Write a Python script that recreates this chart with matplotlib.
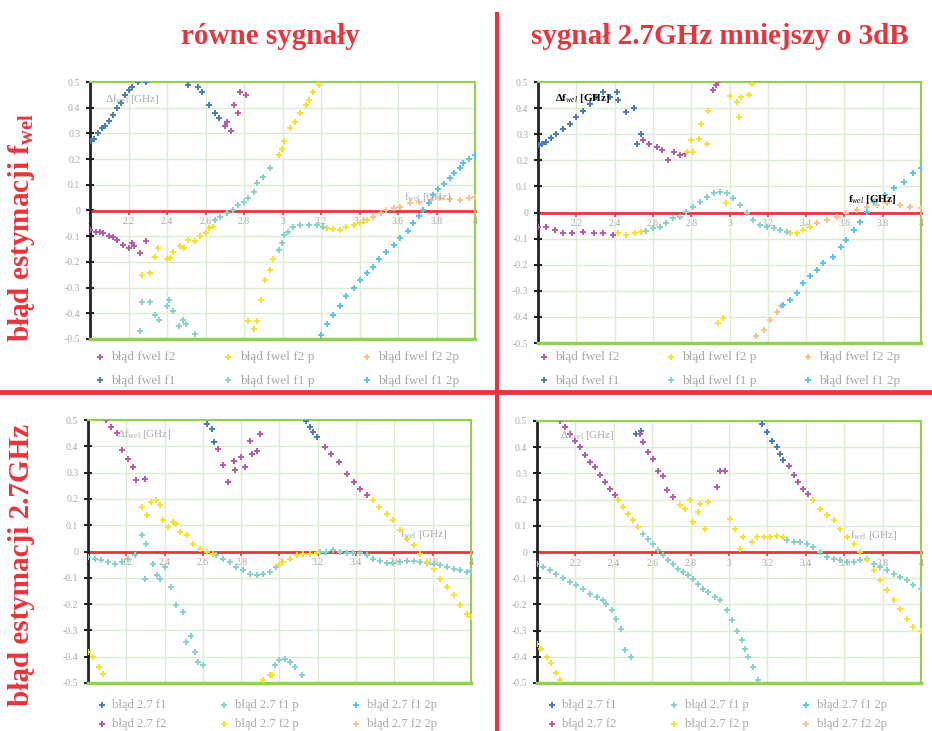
import numpy as np
import matplotlib.pyplot as plt
from matplotlib.lines import Line2D
from matplotlib.ticker import FuncFormatter, MultipleLocator

plt.rcParams['font.family'] = ['Liberation Serif', 'DejaVu Serif']
plt.rcParams['mathtext.fontset'] = 'custom'
plt.rcParams['mathtext.rm'] = 'Liberation Serif'
plt.rcParams['mathtext.it'] = 'Liberation Serif:italic'
plt.rcParams['mathtext.bf'] = 'Liberation Serif:bold'
plt.rcParams['axes.unicode_minus'] = False

# ---- dane: (f_wel [GHz], blad [GHz]) ----
# gora lewa: rowne sygnaly
tl_f1 = [(2.00, 0.27), (2.02, 0.28), (2.04, 0.30), (2.06, 0.32), (2.08, 0.33), (2.10, 0.35), (2.12, 0.37),
         (2.14, 0.40), (2.16, 0.42), (2.18, 0.45), (2.20, 0.47), (2.22, 0.48), (2.25, 0.50), (2.29, 0.50),
         (2.51, 0.49), (2.56, 0.48), (2.58, 0.46), (2.62, 0.41), (2.65, 0.38), (2.67, 0.36)]
tl_f2 = [(2.00, -0.076), (2.03, -0.082), (2.05, -0.085), (2.07, -0.089), (2.10, -0.10), (2.12, -0.105),
         (2.14, -0.114), (2.17, -0.134), (2.20, -0.147), (2.22, -0.127), (2.23, -0.14), (2.26, -0.166),
         (2.29, -0.12), (2.70, 0.33), (2.71, 0.345), (2.73, 0.31), (2.75, 0.41), (2.77, 0.38), (2.78, 0.46),
         (2.81, 0.45)]
tl_f2p = [(2.27, -0.25), (2.31, -0.244), (2.34, -0.18), (2.355, -0.147), (2.40, -0.19), (2.415, -0.186),
          (2.43, -0.16), (2.47, -0.14), (2.49, -0.147), (2.51, -0.115), (2.545, -0.12), (2.57, -0.10),
          (2.60, -0.089), (2.62, -0.07), (2.64, -0.063), (2.82, -0.43), (2.87, -0.43), (2.85, -0.46),
          (2.89, -0.35), (2.91, -0.27), (2.935, -0.23), (2.95, -0.19), (2.98, 0.215), (2.995, 0.24),
          (3.01, 0.27), (3.04, 0.32), (3.065, 0.345), (3.09, 0.38), (3.12, 0.41), (3.14, 0.43), (3.16, 0.46),
          (3.19, 0.49), (3.23, -0.07), (3.26, -0.073), (3.30, -0.076), (3.33, -0.063), (3.37, -0.056),
          (3.40, -0.05), (3.44, -0.037)]
tl_f2_2p = [(3.47, -0.024), (3.51, -0.011), (3.54, 0.002), (3.58, 0.008), (3.61, 0.015), (3.66, 0.028),
            (3.71, 0.034), (3.77, 0.041), (3.82, 0.047), (3.87, 0.043), (3.92, 0.041), (3.97, 0.047),
            (4.00, 0.054)]
tl_f1p = [(2.27, -0.355), (2.31, -0.355), (2.26, -0.47), (2.34, -0.405), (2.36, -0.425), (2.41, -0.35),
          (2.40, -0.37), (2.43, -0.39), (2.46, -0.45), (2.485, -0.425), (2.50, -0.44), (2.545, -0.48),
          (2.65, -0.037), (2.675, -0.024), (2.71, -0.011), (2.745, 0.002), (2.77, 0.021), (2.80, 0.034),
          (2.82, 0.047), (2.85, 0.073), (2.87, 0.106), (2.90, 0.13), (2.935, 0.164), (2.98, -0.153),
          (2.995, -0.127), (3.01, -0.095), (3.03, -0.082), (3.055, -0.063), (3.09, -0.056), (3.14, -0.056),
          (3.18, -0.056), (3.21, -0.063)]
tl_f1_2p = [(3.20, -0.483), (3.23, -0.44), (3.26, -0.405), (3.30, -0.37), (3.33, -0.334), (3.37, -0.30),
            (3.40, -0.27), (3.44, -0.245), (3.47, -0.218), (3.50, -0.19), (3.54, -0.16), (3.58, -0.135),
            (3.61, -0.108), (3.65, -0.08), (3.68, -0.05), (3.71, -0.02), (3.73, 0.002), (3.76, 0.03),
            (3.78, 0.06), (3.81, 0.085), (3.84, 0.105), (3.87, 0.125), (3.89, 0.144), (3.92, 0.165),
            (3.94, 0.183), (3.97, 0.20), (4.00, 0.215)]

# gora prawa: sygnal 2.7GHz mniejszy o 3dB
tr_f1 = [(2.00, 0.258), (2.02, 0.264), (2.04, 0.27), (2.07, 0.285), (2.096, 0.30), (2.13, 0.32),
         (2.166, 0.34), (2.20, 0.366), (2.235, 0.39), (2.27, 0.417), (2.305, 0.443), (2.34, 0.462),
         (2.375, 0.443), (2.41, 0.462), (2.42, 0.43), (2.46, 0.385), (2.50, 0.40), (2.515, 0.264),
         (2.54, 0.30)]
tr_f2 = [(2.00, -0.054), (2.04, -0.054), (2.09, -0.067), (2.13, -0.08), (2.18, -0.08), (2.235, -0.073),
         (2.29, -0.077), (2.34, -0.08), (2.39, -0.086), (2.55, 0.277), (2.58, 0.264), (2.62, 0.25),
         (2.65, 0.24), (2.68, 0.20), (2.71, 0.232), (2.74, 0.22), (2.77, 0.226), (2.915, 0.468),
         (2.93, 0.487), (2.94, 0.50)]
tr_f2p = [(2.42, -0.08), (2.46, -0.086), (2.505, -0.08), (2.54, -0.073), (2.78, 0.232), (2.80, 0.277),
          (2.81, 0.232), (2.84, 0.283), (2.85, 0.34), (2.88, 0.264), (2.89, 0.39), (2.94, -0.424),
          (2.965, -0.405), (2.98, 0.035), (3.00, 0.448), (3.04, 0.423), (3.05, 0.366), (3.06, 0.443),
          (3.10, 0.449), (3.12, 0.494), (3.315, -0.08), (3.35, -0.08), (3.385, -0.067), (3.42, -0.054)]
tr_f2_2p = [(3.14, -0.475), (3.18, -0.45), (3.21, -0.41), (3.25, -0.38), (3.27, -0.36), (3.455, -0.041),
            (3.51, -0.029), (3.56, -0.016), (3.61, -0.003), (3.665, 0.01), (3.72, 0.022), (3.77, 0.029),
            (3.82, 0.035), (3.89, 0.029), (3.94, 0.022), (4.00, 0.016)]
tr_f1p = [(2.565, -0.07), (2.60, -0.06), (2.635, -0.054), (2.67, -0.041), (2.705, -0.022), (2.74, -0.016),
          (2.775, 0.003), (2.81, 0.022), (2.845, 0.041), (2.88, 0.06), (2.92, 0.076), (2.95, 0.08),
          (2.985, 0.073), (3.02, 0.054), (3.055, 0.029), (3.09, -0.003), (3.125, -0.029), (3.16, -0.048),
          (3.195, -0.054), (3.23, -0.06), (3.265, -0.067), (3.30, -0.073)]
tr_f1_2p = [(3.28, -0.353), (3.315, -0.334), (3.35, -0.31), (3.385, -0.27), (3.42, -0.245), (3.455, -0.22),
            (3.49, -0.194), (3.54, -0.169), (3.58, -0.131), (3.61, -0.105), (3.65, -0.067), (3.68, -0.035),
            (3.72, 0.003), (3.755, 0.041), (3.81, 0.067), (3.86, 0.092), (3.91, 0.118), (3.96, 0.15),
            (4.00, 0.169)]

# dol lewa
bl_f1 = [(2.62, 0.485), (2.645, 0.466), (2.66, 0.415), (3.14, 0.497), (3.16, 0.472), (3.175, 0.453),
         (3.195, 0.434)]
bl_f1p = [(2.00, -0.022), (2.035, -0.028), (2.07, -0.034), (2.105, -0.04), (2.14, -0.047), (2.175, -0.04),
          (2.21, -0.028), (2.245, -0.015), (2.28, 0.061), (2.305, 0.029), (2.34, -0.047), (2.30, -0.104),
          (2.36, -0.091), (2.375, -0.104), (2.40, -0.06), (2.435, -0.135), (2.46, -0.205), (2.496, -0.23),
          (2.51, -0.344), (2.54, -0.32), (2.56, -0.382), (2.575, -0.42), (2.60, -0.433),
          (2.67, -0.015), (2.705, -0.028), (2.74, -0.04), (2.775, -0.06), (2.81, -0.072), (2.845, -0.085),
          (2.88, -0.091), (2.915, -0.085), (2.95, -0.078), (2.98, -0.06),
          (3.21, -0.003), (3.245, 0.0), (3.28, 0.004), (3.315, -0.003), (3.35, -0.005), (3.385, -0.005),
          (3.42, -0.005), (3.455, -0.015), (3.49, -0.028), (3.525, -0.038), (3.56, -0.043), (3.595, -0.043),
          (3.63, -0.04), (3.665, -0.037), (3.70, -0.038), (3.735, -0.04), (3.77, -0.043), (3.805, -0.047),
          (3.84, -0.053), (3.875, -0.06), (3.91, -0.066), (3.94, -0.072), (3.98, -0.078), (4.00, -0.076),
          (2.975, -0.433), (3.00, -0.414), (3.03, -0.408), (3.055, -0.42), (3.08, -0.44), (3.115, -0.47)]
bl_f1_2p = []
bl_f2 = [(2.095, 0.50), (2.12, 0.475), (2.15, 0.45), (2.175, 0.385), (2.21, 0.353), (2.235, 0.32),
         (2.25, 0.27), (2.30, 0.276), (2.68, 0.39), (2.705, 0.327), (2.73, 0.263), (2.76, 0.345),
         (2.77, 0.308), (2.80, 0.358), (2.82, 0.32), (2.845, 0.42), (2.855, 0.37), (2.88, 0.383),
         (2.90, 0.447), (3.24, 0.396), (3.27, 0.37), (3.31, 0.34), (3.35, 0.295), (3.39, 0.263),
         (3.42, 0.238), (3.455, 0.213)]
bl_f2p = [(2.28, 0.168), (2.31, 0.137), (2.33, 0.187), (2.355, 0.194), (2.375, 0.175), (2.39, 0.118),
          (2.418, 0.092), (2.445, 0.111), (2.46, 0.105), (2.48, 0.073), (2.515, 0.061), (2.55, 0.029),
          (2.585, 0.01), (2.62, -0.003), (2.655, -0.009), (2.00, -0.382), (2.026, -0.40), (2.06, -0.44),
          (2.08, -0.465), (2.915, -0.49), (2.95, -0.468), (2.96, -0.468), (2.995, -0.053), (3.02, -0.04),
          (3.055, -0.028), (3.09, -0.015), (3.125, -0.009), (3.16, -0.009), (3.195, -0.005),
          (3.49, 0.194), (3.52, 0.168), (3.56, 0.143), (3.595, 0.118), (3.63, 0.08), (3.665, 0.048),
          (3.70, 0.023), (3.735, -0.009), (3.77, -0.04), (3.805, -0.066), (3.84, -0.104), (3.875, -0.135),
          (3.91, -0.167), (3.94, -0.205), (3.98, -0.237), (4.00, -0.25)]
bl_f2_2p = []

# dol prawa
br_f1 = [(2.518, 0.45), (2.544, 0.46), (3.17, 0.49), (3.197, 0.458), (3.223, 0.425), (3.25, 0.40),
         (3.266, 0.375), (3.283, 0.35)]
br_f1p = [(2.553, 0.07), (2.58, 0.05), (2.605, 0.032), (2.63, 0.006), (2.657, -0.013), (2.683, -0.032),
          (2.71, -0.045), (2.735, -0.064), (2.76, -0.076), (2.788, -0.089), (2.814, -0.102), (2.84, -0.121),
          (2.866, -0.14), (2.89, -0.153), (2.927, -0.172), (2.953, -0.185), (2.988, -0.223), (3.014, -0.26),
          (3.04, -0.30), (3.066, -0.337), (3.083, -0.37), (3.10, -0.40), (3.127, -0.44), (3.153, -0.49),
          (2.00, -0.045), (2.03, -0.057), (2.066, -0.07), (2.10, -0.083), (2.136, -0.10), (2.17, -0.115),
          (2.205, -0.127), (2.24, -0.14), (2.275, -0.16), (2.31, -0.17), (2.344, -0.185), (2.36, -0.20),
          (2.39, -0.223), (2.414, -0.254), (2.44, -0.293), (2.457, -0.375), (2.49, -0.40),
          (3.30, 0.045), (3.336, 0.038), (3.37, 0.038), (3.405, 0.032), (3.44, 0.019), (3.475, 0.0),
          (3.51, -0.019), (3.545, -0.025), (3.58, -0.032), (3.614, -0.038), (3.65, -0.038), (3.684, -0.032),
          (3.718, -0.025), (3.753, -0.045), (3.788, -0.057), (3.823, -0.07), (3.858, -0.083),
          (3.892, -0.095), (3.927, -0.108), (3.96, -0.127), (4.00, -0.14)]
br_f1_2p = []
br_f2 = [(2.118, 0.50), (2.144, 0.477), (2.17, 0.45), (2.196, 0.425), (2.222, 0.40), (2.25, 0.37),
         (2.275, 0.343), (2.30, 0.324), (2.33, 0.293), (2.355, 0.267), (2.38, 0.24), (2.405, 0.216),
         (2.535, 0.45), (2.55, 0.42), (2.58, 0.38), (2.605, 0.356), (2.63, 0.31), (2.657, 0.29),
         (2.675, 0.235), (2.71, 0.21), (2.936, 0.248), (2.953, 0.31), (2.98, 0.31), (3.31, 0.33),
         (3.336, 0.293), (3.36, 0.267), (3.388, 0.242), (3.414, 0.223)]
br_f2p = [(2.42, 0.197), (2.45, 0.172), (2.475, 0.146), (2.50, 0.121), (2.527, 0.095),
          (2.00, -0.35), (2.02, -0.37), (2.05, -0.40), (2.075, -0.425), (2.10, -0.46), (2.118, -0.49),
          (2.744, 0.178), (2.77, 0.165), (2.796, 0.197), (2.814, 0.115), (2.84, 0.153), (2.85, 0.185),
          (2.875, 0.089), (2.89, 0.19), (3.005, 0.127), (3.03, 0.089), (3.057, 0.013), (3.075, 0.057),
          (3.12, 0.038), (3.145, 0.057), (3.18, 0.057), (3.214, 0.057), (3.25, 0.06), (3.283, 0.057),
          (3.44, 0.197), (3.475, 0.165), (3.51, 0.14), (3.545, 0.121), (3.58, 0.089), (3.614, 0.057),
          (3.65, 0.032), (3.684, 0.0), (3.718, -0.032), (3.753, -0.07), (3.788, -0.108), (3.823, -0.146),
          (3.858, -0.185), (3.892, -0.216), (3.927, -0.254), (3.96, -0.286), (4.00, -0.30)]
br_f2_2p = []

BLUE = '#4a7ebb'
MAGENTA = '#b65fa8'
YELLOW = '#f7e034'
TEAL = '#8ad1c9'
SKY = '#5cc3ea'
ORANGE = '#f8c190'
RED = '#e8343c'
GREEN = '#92d050'
GRIDC = '#dcedcf'
GRAY = '#a8a8a8'

fig = plt.figure(figsize=(9.32, 7.31), dpi=100)


def panel(rect, series, order, ann_style, ann_pos, leg_anchor, leg_fs, leg_sp, leg_col):
    ax = fig.add_axes(rect)
    ax.set_xlim(2, 4)
    ax.set_ylim(-0.5, 0.5)
    ax.xaxis.set_major_locator(MultipleLocator(0.2))
    ax.yaxis.set_major_locator(MultipleLocator(0.1))
    ax.xaxis.set_major_formatter(FuncFormatter(lambda v, p: f"{v:g}"))
    ax.yaxis.set_major_formatter(FuncFormatter(lambda v, p: f"{round(v, 1):g}"))
    ax.grid(True, color=GRIDC, lw=1.0, zorder=0)
    ax.set_axisbelow(True)
    ax.spines['bottom'].set_position(('data', 0))
    ax.spines['bottom'].set_color(RED)
    ax.spines['bottom'].set_linewidth(2)
    ax.spines['bottom'].set_zorder(2)
    for s in ('top', 'right'):
        ax.spines[s].set_color(GREEN)
        ax.spines[s].set_linewidth(1.5)
    ax.spines['left'].set_color('#222222')
    ax.spines['left'].set_linewidth(2)
    ax.axhline(-0.5, color=GREEN, lw=2.5, clip_on=False, zorder=3)
    ax.tick_params(axis='x', colors=RED, length=3, width=1.2, direction='out', labelsize=7,
                   labelcolor=GRAY, pad=2)
    ax.tick_params(axis='y', colors='#222222', length=6, width=1.5, direction='inout', labelsize=7,
                   labelcolor=GRAY, pad=4)
    handles = {}
    for key, (pts, color, label) in series.items():
        arr = np.array(pts, dtype=float).reshape(-1, 2)
        handles[key] = ax.scatter(arr[:, 0], arr[:, 1], marker='P', s=22, color=color,
                                  linewidths=0, label=label, zorder=4, clip_on=True)
    a1, a2 = ann_pos
    if ann_style == 'bold':
        ax.text(a1[0], a1[1], r'$\mathbf{\Delta f}_{wel}$' + r' $\mathbf{[GHz]}$', fontsize=8,
                color='black', va='center', zorder=5)
        ax.text(a2[0], a2[1], r'$\mathbf{f}_{wel}$' + r' $\mathbf{[GHz]}$', fontsize=8,
                color='black', va='center', zorder=5)
    else:
        ax.text(a1[0], a1[1], r'$\Delta\mathrm{f}_{\mathrm{wel}}$ [GHz]', fontsize=8,
                color=GRAY, va='center', zorder=5)
        ax.text(a2[0], a2[1], r'$\mathrm{f}_{\mathrm{wel}}$ [GHz]', fontsize=8,
                color=GRAY, va='center', zorder=5)
    leg = fig.legend([handles[k] for k in order], [series[k][2] for k in order], ncol=3,
                     loc='upper left', bbox_to_anchor=leg_anchor, frameon=False, fontsize=leg_fs,
                     handletextpad=0.4, columnspacing=leg_col, labelspacing=leg_sp, handlelength=0.9,
                     markerscale=0.9, borderpad=0, borderaxespad=0)
    for t in leg.get_texts():
        t.set_color(GRAY)
    return ax


tl_series = {
    'f2': (tl_f2, MAGENTA, 'błąd fwel f2'), 'f1': (tl_f1, BLUE, 'błąd fwel f1'),
    'f2p': (tl_f2p, YELLOW, 'błąd fwel f2 p'), 'f1p': (tl_f1p, TEAL, 'błąd fwel f1 p'),
    'f2_2p': (tl_f2_2p, ORANGE, 'błąd fwel f2 2p'), 'f1_2p': (tl_f1_2p, SKY, 'błąd fwel f1 2p'),
}
tr_series = {
    'f2': (tr_f2, MAGENTA, 'błąd fwel f2'), 'f1': (tr_f1, BLUE, 'błąd fwel f1'),
    'f2p': (tr_f2p, YELLOW, 'błąd fwel f2 p'), 'f1p': (tr_f1p, TEAL, 'błąd fwel f1 p'),
    'f2_2p': (tr_f2_2p, ORANGE, 'błąd fwel f2 2p'), 'f1_2p': (tr_f1_2p, SKY, 'błąd fwel f1 2p'),
}
bl_series = {
    'f1': (bl_f1, BLUE, 'błąd 2.7 f1'), 'f2': (bl_f2, MAGENTA, 'błąd 2.7 f2'),
    'f1p': (bl_f1p, TEAL, 'błąd 2.7 f1 p'), 'f2p': (bl_f2p, YELLOW, 'błąd 2.7 f2 p'),
    'f1_2p': (bl_f1_2p, SKY, 'błąd 2.7 f1 2p'), 'f2_2p': (bl_f2_2p, ORANGE, 'błąd 2.7 f2 2p'),
}
br_series = {
    'f1': (br_f1, BLUE, 'błąd 2.7 f1'), 'f2': (br_f2, MAGENTA, 'błąd 2.7 f2'),
    'f1p': (br_f1p, TEAL, 'błąd 2.7 f1 p'), 'f2p': (br_f2p, YELLOW, 'błąd 2.7 f2 p'),
    'f1_2p': (br_f1_2p, SKY, 'błąd 2.7 f1 2p'), 'f2_2p': (br_f2_2p, ORANGE, 'błąd 2.7 f2 2p'),
}
top_order = ['f2', 'f1', 'f2p', 'f1p', 'f2_2p', 'f1_2p']
bot_order = ['f1', 'f2', 'f1p', 'f2p', 'f1_2p', 'f2_2p']

W, H = 932.0, 731.0
panel([90 / W, 1 - 339 / H, 385 / W, 257 / H], tl_series, top_order, 'gray',
      ((2.08, 0.435), (3.63, 0.054)), (94 / W, 1 - 351 / H), 9.5, 0.85, 3.55)
panel([538 / W, 1 - 343 / H, 383 / W, 261 / H], tr_series, top_order, 'bold',
      ((2.09, 0.436), (3.62, 0.048)), (538 / W, 1 - 351 / H), 9.5, 0.85, 3.45)
panel([88 / W, 1 - 683 / H, 383 / W, 263 / H], bl_series, bot_order, 'gray',
      ((2.15, 0.447), (3.63, 0.067)), (96 / W, 1 - 699 / H), 9.0, 0.55, 4.15)
panel([537 / W, 1 - 683 / H, 384 / W, 262 / H], br_series, bot_order, 'gray',
      ((2.12, 0.445), (3.63, 0.064)), (546 / W, 1 - 699 / H), 9.0, 0.55, 4.15)

# naglowki
fig.text(270 / W, 1 - 36 / H, 'równe sygnały', color=RED, fontsize=21, fontweight='bold',
         ha='center', va='center')
fig.text(720 / W, 1 - 36 / H, 'sygnał 2.7GHz mniejszy o 3dB', color=RED, fontsize=21,
         fontweight='bold', ha='center', va='center')
fig.text(22 / W, 1 - 228 / H, r'błąd estymacji f$_{\mathbf{wel}}$', color=RED, fontsize=21,
         fontweight='bold', rotation=90, ha='center', va='center')
fig.text(22 / W, 1 - 565 / H, 'błąd estymacji 2.7GHz', color=RED, fontsize=21,
         fontweight='bold', rotation=90, ha='center', va='center')

# czerwone linie podzialu
fig.add_artist(Line2D([497 / W, 497 / W], [0, 1 - 14 / H], transform=fig.transFigure,
                      color=RED, lw=3))
fig.add_artist(Line2D([0, 1], [1 - 392 / H, 1 - 392 / H], transform=fig.transFigure,
                      color=RED, lw=3.5))

fig.savefig('out.png', dpi=100)
